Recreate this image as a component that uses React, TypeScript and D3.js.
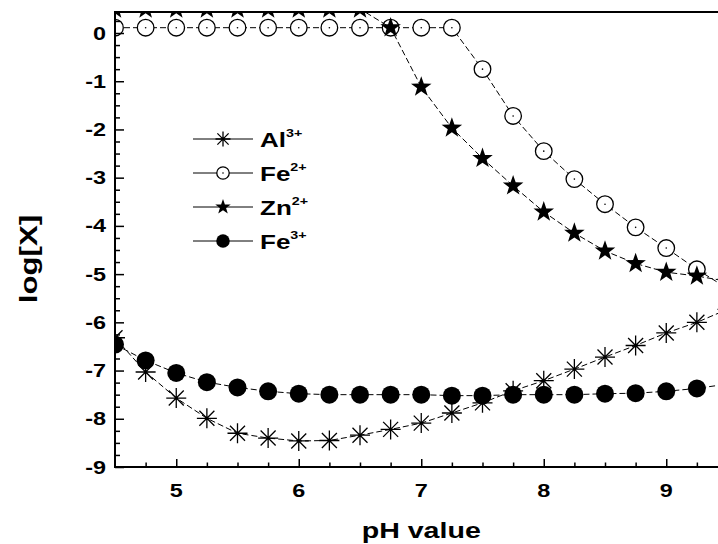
import React, { useEffect, useRef } from "react";
import * as d3 from "d3";

// pH steps, last one sits just past the right edge of the picture
const phValues = [4.5, 4.75, 5, 5.25, 5.5, 5.75, 6, 6.25, 6.5, 6.75, 7, 7.25, 7.5, 7.75, 8, 8.25, 8.5, 8.75, 9, 9.25, 9.5];

const al3 = [-6.32, -7.03, -7.57, -7.99, -8.3, -8.4, -8.46, -8.45, -8.34, -8.22, -8.09, -7.88, -7.67, -7.42, -7.21, -6.97, -6.72, -6.48, -6.22, -6.0, -5.73];
const fe2 = [0.11, 0.11, 0.11, 0.11, 0.11, 0.11, 0.11, 0.11, 0.11, 0.11, 0.11, 0.11, -0.75, -1.72, -2.45, -3.03, -3.55, -4.03, -4.46, -4.9, -5.3];
const zn2 = [0.5, 0.5, 0.5, 0.5, 0.5, 0.5, 0.5, 0.5, 0.5, 0.11, -1.12, -1.97, -2.6, -3.17, -3.71, -4.15, -4.52, -4.78, -4.96, -5.04, -5.15];
const fe3 = [-6.46, -6.79, -7.05, -7.24, -7.35, -7.43, -7.48, -7.5, -7.5, -7.5, -7.5, -7.52, -7.52, -7.5, -7.5, -7.5, -7.48, -7.47, -7.43, -7.37, -7.28];

const xTicks = [5, 6, 7, 8, 9];
const yTicks = [0, -1, -2, -3, -4, -5, -6, -7, -8, -9];

const legendIons = ["Al", "Fe", "Zn", "Fe"];
const legendCharges = ["3+", "2+", "2+", "3+"];

const FONT = "'Liberation Sans', Arial, sans-serif";
const STRETCH = 1.3; // the reference text is drawn wide

type Marker = "asterisk" | "open" | "star" | "dot";

function starPath(r: number) {
  const inner = r * 0.4;
  const pts: string[] = [];
  for (let i = 0; i < 10; i++) {
    const a = (Math.PI / 5) * i - Math.PI / 2;
    const rr = i % 2 === 0 ? r : inner;
    pts.push(`${(Math.cos(a) * rr).toFixed(2)},${(Math.sin(a) * rr).toFixed(2)}`);
  }
  return "M" + pts.join("L") + "Z";
}

function asteriskPath(r: number) {
  const a = r * 0.75;
  return `M0,${-r}L0,${r}M${-r},0L${r},0M${-a},${-a}L${a},${a}M${-a},${a}L${a},${-a}`;
}

function drawMarker(g: any, kind: Marker, cx: number, cy: number, s: number) {
  const t = `translate(${cx},${cy})`;
  if (kind === "asterisk") {
    g.append("path").attr("transform", t).attr("d", asteriskPath(10 * s))
      .attr("stroke", "black").attr("stroke-width", 1.3).attr("fill", "none");
  } else if (kind === "open") {
    g.append("circle").attr("cx", cx).attr("cy", cy).attr("r", 8.3 * s)
      .attr("fill", "white").attr("stroke", "black").attr("stroke-width", 1.3);
    g.append("circle").attr("cx", cx).attr("cy", cy).attr("r", 0.8).attr("fill", "black");
  } else if (kind === "star") {
    g.append("path").attr("transform", t).attr("d", starPath(10.8 * s)).attr("fill", "black");
  } else {
    g.append("circle").attr("cx", cx).attr("cy", cy).attr("r", 9 * s).attr("fill", "black");
  }
}

function App() {
  const ref = useRef<SVGSVGElement>(null);

  useEffect(() => {
    const svg = d3.select(ref.current);
    svg.selectAll("*").remove();

    const left = 115, top = 12, bottom = 467, right = 727.5;
    const x = d3.scaleLinear().domain([4.5, 9.5]).range([left, right]);
    const y = d3.scaleLinear().domain([-9, 0]).range([bottom, 33]);

    const text = (px: number, py: number, str: string, size: number, anchor: string, rotate = 0) =>
      svg.append("text")
        .attr("transform", `translate(${px},${py}) rotate(${rotate}) scale(${STRETCH},1)`)
        .attr("text-anchor", anchor)
        .attr("font-family", FONT)
        .attr("font-weight", "bold")
        .attr("font-size", size)
        .text(str);

    // clip for the data
    svg.append("clipPath").attr("id", "plotclip")
      .append("rect").attr("x", left).attr("y", top).attr("width", right - left).attr("height", bottom - top);

    const plot = svg.append("g").attr("clip-path", "url(#plotclip)");

    const series: { vals: number[]; kind: Marker }[] = [
      { vals: al3, kind: "asterisk" },
      { vals: fe2, kind: "open" },
      { vals: zn2, kind: "star" },
      { vals: fe3, kind: "dot" },
    ];

    const line = d3.line<number>().x((d, i) => x(phValues[i])).y(d => y(d));

    series.forEach(s => {
      plot.append("path")
        .attr("d", line(s.vals))
        .attr("fill", "none")
        .attr("stroke", "black")
        .attr("stroke-width", 1)
        .attr("stroke-dasharray", "6,3");
      s.vals.forEach((v, i) => drawMarker(plot, s.kind, x(phValues[i]), y(v), 1));
    });

    // minor ticks
    const xMinor = d3.range(4.75, 9.5, 0.25).filter(v => Math.abs(v - Math.round(v)) > 0.01);
    const yMinor = d3.range(-9, 0.3, 0.25).filter(v => Math.abs(v - Math.round(v)) > 0.01);

    const xAxisMinor = d3.axisBottom(x).tickValues(xMinor).tickSize(-4.5).tickFormat(() => "");
    const xAxisMajor = d3.axisBottom(x).tickValues(xTicks).tickSize(-8).tickFormat(() => "");
    const yAxisMinor = d3.axisLeft(y).tickValues(yMinor).tickSize(-5).tickFormat(() => "");
    const yAxisMajor = d3.axisLeft(y).tickValues(yTicks).tickSize(-9).tickFormat(() => "");

    [xAxisMinor, xAxisMajor].forEach(ax => {
      const g = svg.append("g").attr("transform", `translate(0,${bottom})`).call(ax as any);
      g.select(".domain").remove();
      g.selectAll("line").attr("stroke-width", 1.5);
    });
    [yAxisMinor, yAxisMajor].forEach(ax => {
      const g = svg.append("g").attr("transform", `translate(${left},0)`).call(ax as any);
      g.select(".domain").remove();
      g.selectAll("line").attr("stroke-width", 1.5);
    });

    // frame
    svg.append("path")
      .attr("d", `M${right},${top}L${left},${top}L${left},${bottom}L${right},${bottom}`)
      .attr("fill", "none").attr("stroke", "black").attr("stroke-width", 2);

    // tick labels
    yTicks.forEach(v => text(106, y(v) + 6.5, String(v), 18, "end"));
    xTicks.forEach(v => text(x(v), 497, String(v), 18, "middle"));

    // axis titles
    text(x(7), 538, "pH value", 22, "middle");
    text(37, 259, "log[X]", 24, "middle", -90);

    // legend
    const legendKinds: Marker[] = ["asterisk", "open", "star", "dot"];
    const lg = svg.append("g");
    legendKinds.forEach((k, i) => {
      const ly = 139 + i * 34;
      lg.append("line").attr("x1", 193).attr("x2", 253).attr("y1", ly).attr("y2", ly)
        .attr("stroke", "black").attr("stroke-width", 1);
      drawMarker(lg, k, 223, ly, 0.75);
      const t = text(260, ly + 7.5, legendIons[i], 20, "start");
      t.append("tspan").attr("dy", -10).attr("font-size", 11).text(legendCharges[i]);
    });
  }, []);

  return (
    <svg ref={ref} width={718} height={544} style={{ position: "absolute", left: 0, top: 0, background: "white" }} />
  );
}

export default App;
